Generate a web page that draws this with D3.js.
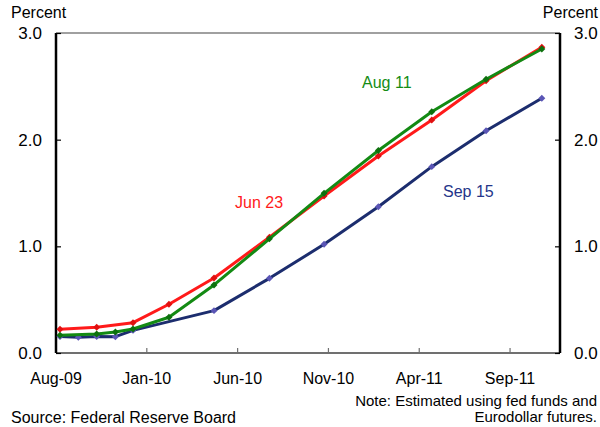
<!DOCTYPE html>
<html><head><meta charset="utf-8">
<script src="https://cdn.jsdelivr.net/npm/d3@7"></script>
<style>body{margin:0;background:#fff}svg{display:block;font-family:"Liberation Sans",Arial,sans-serif}</style>
</head><body><svg id="c" width="600" height="427"></svg>
<script>
// Month offsets from Aug-2009
const tickMonths = [0, 5, 10, 15, 20, 25];
const tickLabels = ["Aug-09", "Jan-10", "Jun-10", "Nov-10", "Apr-11", "Sep-11"];
const yTicks = [0, 1, 2, 3];

const jun23Months = [0.22, 2.24, 4.24, 6.22, 8.70, 11.75, 14.76, 17.75, 20.69, 23.68, 26.75];
const jun23Values = [0.222, 0.241, 0.284, 0.457, 0.703, 1.085, 1.472, 1.847, 2.184, 2.553, 2.866];

const aug11Months = [0.22, 2.24, 3.27, 4.24, 6.22, 8.70, 11.75, 14.76, 17.75, 20.69, 23.68, 26.75];
const aug11Values = [0.166, 0.178, 0.197, 0.225, 0.335, 0.638, 1.07, 1.497, 1.898, 2.262, 2.566, 2.85];

const sep15Months = [0.22, 1.23, 2.24, 3.27, 4.24, 8.70, 11.75, 14.76, 17.75, 20.69, 23.68, 26.75];
const sep15Values = [0.155, 0.147, 0.155, 0.153, 0.212, 0.397, 0.70, 1.019, 1.371, 1.747, 2.084, 2.388];

const svg = d3.select("#c");
const L = 56, R = 560, T = 33, B = 353;
const x = d3.scaleLinear().domain([0, 27.75]).range([L, R]);
const y = d3.scaleLinear().domain([0, 3]).range([B, T]);

// frame
svg.append("line").attr("x1", L).attr("x2", R).attr("y1", T).attr("y2", T).attr("stroke", "#808080").attr("stroke-width", 1.5);
svg.append("line").attr("x1", L).attr("x2", R).attr("y1", B).attr("y2", B).attr("stroke", "#707070").attr("stroke-width", 2);

// x ticks (inward)
svg.append("g").selectAll("line").data(tickMonths.slice(1)).join("line")
  .attr("x1", d => x(d)).attr("x2", d => x(d)).attr("y1", B).attr("y2", B - 5)
  .attr("stroke", "#707070").attr("stroke-width", 1.2);
svg.append("g").selectAll("text").data(tickMonths).join("text")
  .attr("x", d => x(d)).attr("y", 384).attr("text-anchor", "middle")
  .attr("font-size", 16).attr("fill", "#000").text((d, i) => tickLabels[i]);

// y axes
const axL = d3.axisRight(y).tickValues(yTicks).tickSize(5).tickFormat("");
const axR = d3.axisLeft(y).tickValues(yTicks).tickSize(5).tickFormat("");
const gL = svg.append("g").attr("transform", `translate(${L},0)`).call(axL);
const gR = svg.append("g").attr("transform", `translate(${R},0)`).call(axR);
[gL, gR].forEach(g => {
  g.select(".domain").attr("stroke", "#000").attr("stroke-width", 2.5).attr("d", `M0,${T}V${B}`);
  g.selectAll(".tick line").attr("stroke", "#000").attr("stroke-width", 1.2);
});
svg.append("g").selectAll("text").data(yTicks).join("text")
  .attr("x", 42).attr("y", d => y(d)).attr("dy", "0.36em").attr("text-anchor", "end")
  .attr("font-size", 17).text(d => d.toFixed(1));
svg.append("g").selectAll("text").data(yTicks).join("text")
  .attr("x", 574).attr("y", d => y(d)).attr("dy", "0.36em").attr("text-anchor", "start")
  .attr("font-size", 17).text(d => d.toFixed(1));

svg.append("text").attr("x", 11).attr("y", 18).attr("font-size", 16).text("Percent");
svg.append("text").attr("x", 598).attr("y", 18).attr("font-size", 16).attr("text-anchor", "end").text("Percent");

// series
const series = [
  {m: sep15Months, v: sep15Values, line: "#1c2d6e", mark: "#5a55b5"},
  {m: jun23Months, v: jun23Values, line: "#ff1a1a", mark: "#e01010"},
  {m: aug11Months, v: aug11Values, line: "#138a13", mark: "#0d700d"}
];
const lineGen = d3.line().x(d => x(d[0])).y(d => y(d[1]));
series.forEach(s => {
  const pts = s.m.map((m, i) => [m, s.v[i]]);
  svg.append("path").attr("d", lineGen(pts)).attr("fill", "none")
    .attr("stroke", s.line).attr("stroke-width", 3).attr("stroke-linejoin", "round");
  svg.append("g").selectAll("path").data(pts).join("path")
    .attr("d", d3.symbol(d3.symbolSquare, 24))
    .attr("transform", d => `translate(${x(d[0])},${y(d[1])}) rotate(45)`)
    .attr("fill", s.mark);
});

// series labels
svg.append("text").attr("x", 362).attr("y", 88).attr("font-size", 16).attr("fill", "#148c14").text("Aug 11");
svg.append("text").attr("x", 235).attr("y", 208).attr("font-size", 16).attr("fill", "#ff1a1a").text("Jun 23");
svg.append("text").attr("x", 443).attr("y", 197).attr("font-size", 16).attr("fill", "#25358a").text("Sep 15");

// notes
svg.append("text").attr("x", 11).attr("y", 423).attr("font-size", 16).text("Source: Federal Reserve Board");
svg.append("text").attr("x", 597).attr("y", 406).attr("font-size", 15).attr("text-anchor", "end").text("Note: Estimated using fed funds and");
svg.append("text").attr("x", 597).attr("y", 422).attr("font-size", 15).attr("text-anchor", "end").text("Eurodollar futures.");
</script></body></html>
